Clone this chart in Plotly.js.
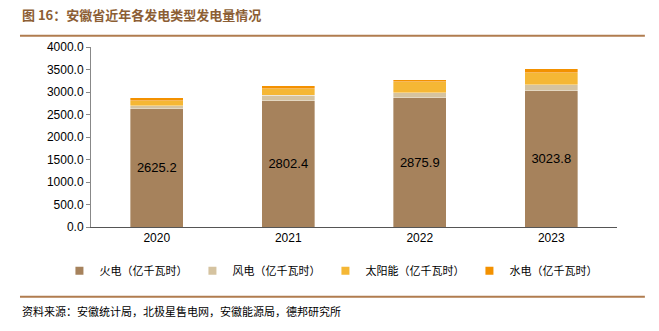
<!DOCTYPE html>
<html><head><meta charset="utf-8">
<script src="https://cdn.plot.ly/plotly-3.0.1.min.js"></script>
<style>body{margin:0;background:#fff}#c{width:659px;height:331px}</style>
</head><body><div id="c"></div>
<script>
const years = ['2020', '2021', '2022', '2023'];
const thermal = [2625.2, 2802.4, 2875.9, 3023.8];
const wind = [65, 120, 108, 138];
const solar = [120, 155, 244, 267];
const hydro = [62, 63, 45, 89];
const seriesNames = ['火电（亿千瓦时）', '风电（亿千瓦时）', '太阳能（亿千瓦时）', '水电（亿千瓦时）'];
const colors = ['#A6825C', '#D5C3A0', '#F5B735', '#F39100'];
const yTicks = [0, 500, 1000, 1500, 2000, 2500, 3000, 3500, 4000];

const series = [thermal, wind, solar, hydro];
const traces = series.map((vals, i) => ({
  type: 'bar', x: years, y: vals, name: seriesNames[i], showlegend: false,
  marker: {color: colors[i], line: {color: 'rgba(255,255,255,0.6)', width: 0.6}},
  text: i === 0 ? vals.map(v => v.toFixed(1)) : undefined,
  textposition: i === 0 ? 'inside' : 'none',
  insidetextanchor: 'middle',
  textfont: {family: 'Liberation Sans, Arial, sans-serif', size: 13, color: '#000'},
  hoverinfo: 'none'
}));
// legend entries with small square symbols
seriesNames.forEach((n, i) => traces.push({
  type: 'scatter', mode: 'markers', x: [null], y: [null], name: n, showlegend: true,
  marker: {symbol: 'square', size: 8, color: colors[i]}, hoverinfo: 'none'
}));

const brown = '#B07C4F';
const layout = {
  width: 659, height: 331,
  margin: {l: 91, r: 42, t: 47, b: 104},
  barmode: 'stack', bargap: 0.6,
  paper_bgcolor: '#fff', plot_bgcolor: '#fff',
  font: {family: 'Liberation Sans, Arial, sans-serif', size: 12, color: '#000'},
  xaxis: {type: 'category', showline: true, linecolor: '#555', linewidth: 1, ticks: '',
    tickfont: {size: 12}, fixedrange: true},
  yaxis: {range: [0, 4000], tickvals: yTicks, ticktext: yTicks.map(v => v.toFixed(1)),
    showgrid: false, zeroline: false, showline: true, linecolor: '#888', linewidth: 1,
    ticks: 'outside', ticklen: 4, tickcolor: '#888', tickfont: {size: 12}},
  showlegend: true,
  legend: {orientation: 'h', xref: 'paper', yref: 'paper', x: -0.06, xanchor: 'left',
    y: -0.243, yanchor: 'middle', font: {family: 'Noto Sans CJK SC', size: 11, color: '#000'},
    itemwidth: 30, traceorder: 'normal'},
  shapes: [
    {type: 'line', xref: 'paper', yref: 'paper', x0: -0.135, x1: 1.053, y0: 1.063, y1: 1.063,
      line: {color: brown, width: 2}},
    {type: 'line', xref: 'paper', yref: 'paper', x0: -0.135, x1: 1.053, y0: -0.387, y1: -0.387,
      line: {color: brown, width: 2}}
  ],
  annotations: [
    {xref: 'paper', yref: 'paper', x: -0.135, y: 1.179, xanchor: 'left', yanchor: 'middle', showarrow: false,
      text: '<b>图 16：安徽省近年各发电类型发电量情况</b>',
      font: {family: 'Noto Sans CJK SC', size: 13, color: '#8C5E34'}},
    {xref: 'paper', yref: 'paper', x: -0.135, y: -0.465, xanchor: 'left', yanchor: 'middle', showarrow: false,
      text: '资料来源：安徽统计局，北极星售电网，安徽能源局，德邦研究所',
      font: {family: 'Noto Sans CJK SC', size: 11, color: '#000'}}
  ]
};
Plotly.newPlot('c', traces, layout, {displayModeBar: false, staticPlot: true});
</script></body></html>
